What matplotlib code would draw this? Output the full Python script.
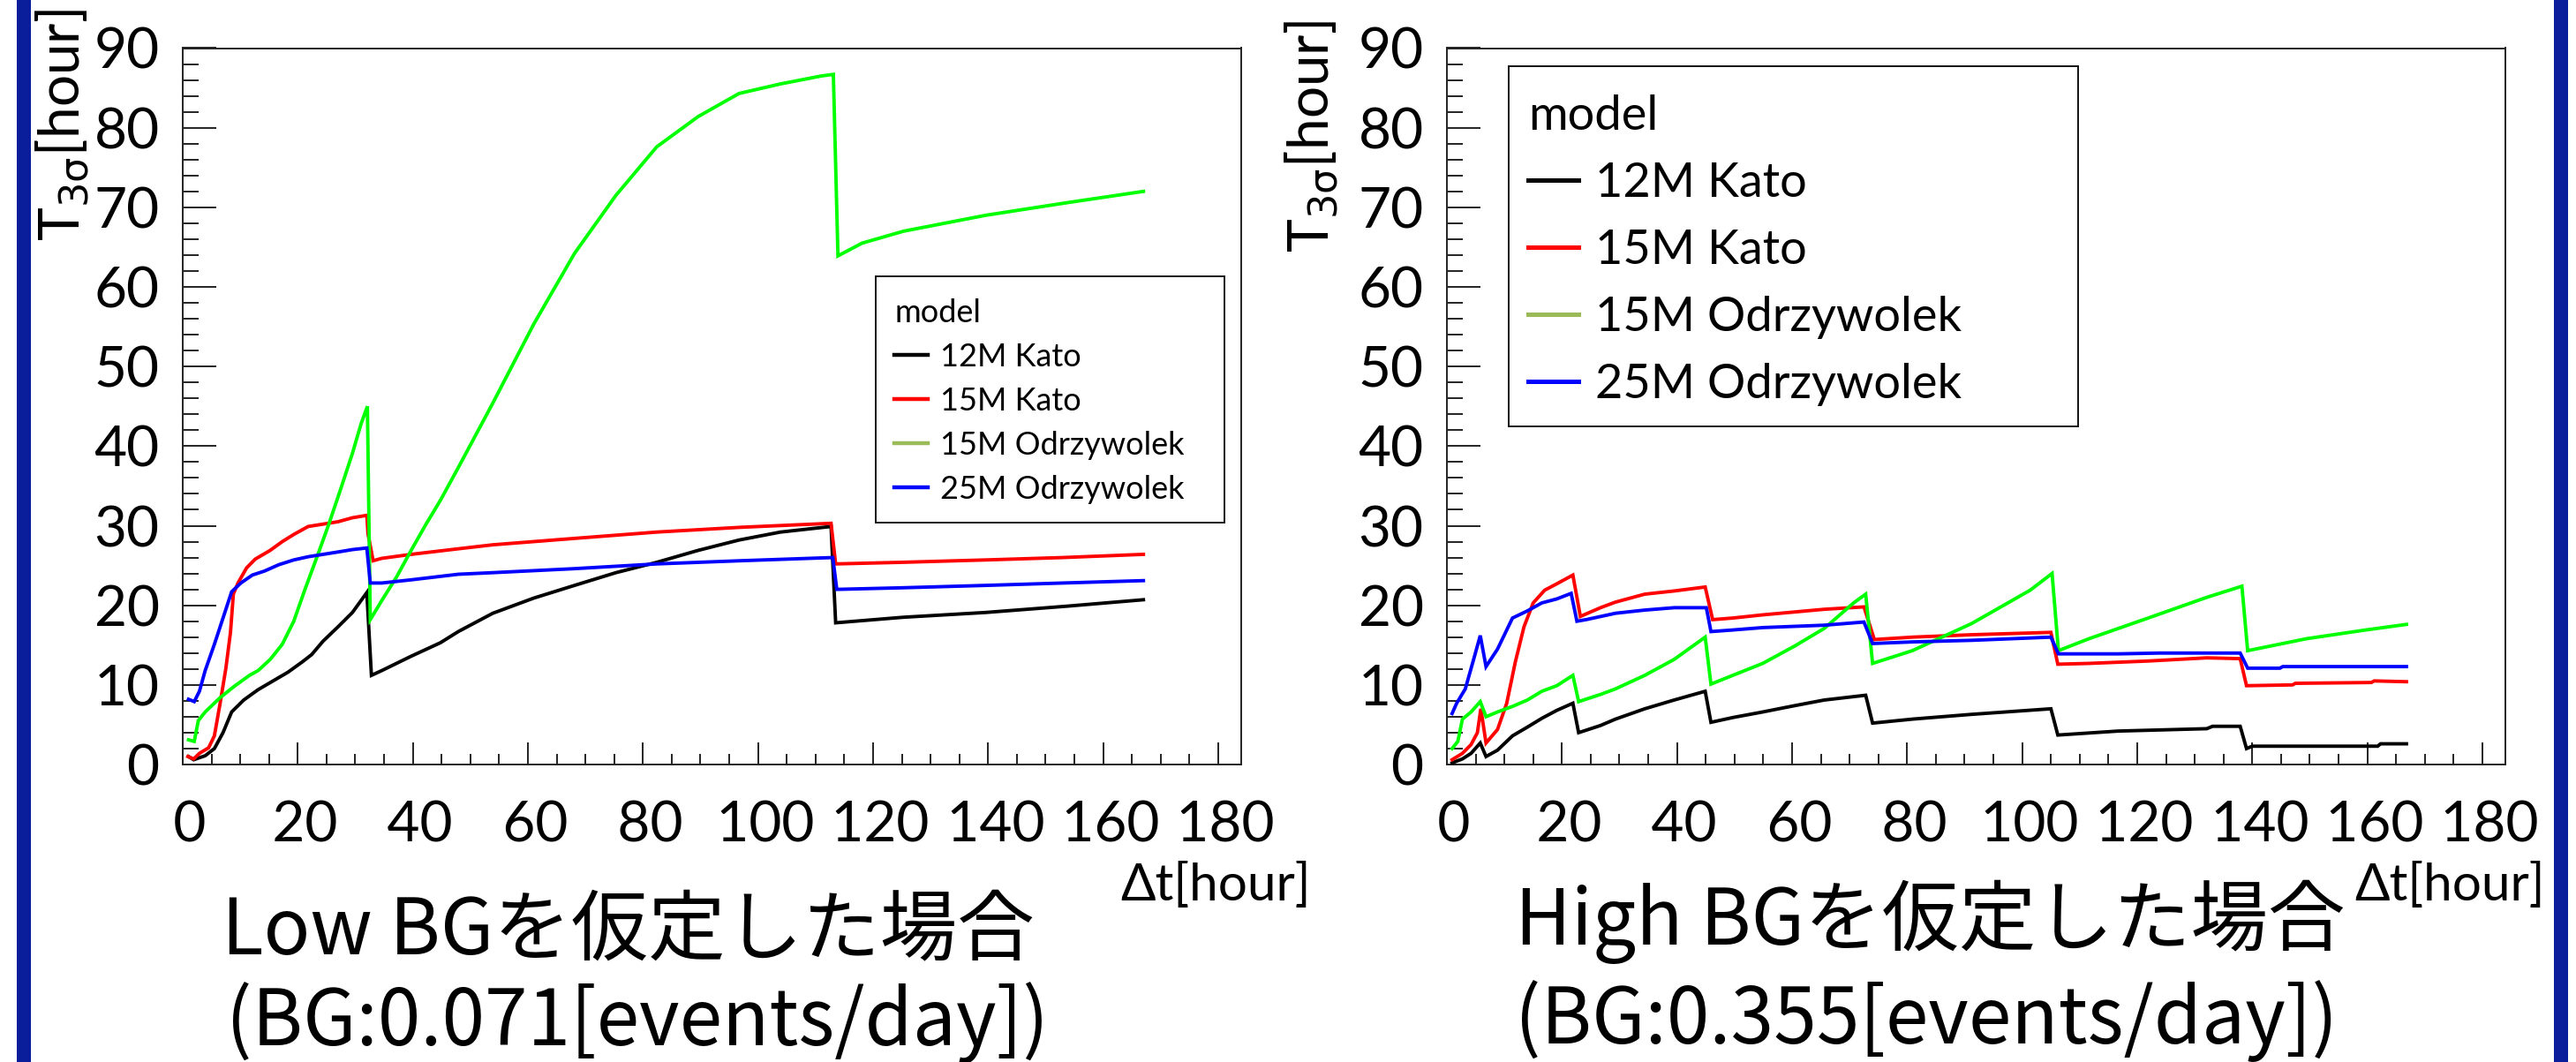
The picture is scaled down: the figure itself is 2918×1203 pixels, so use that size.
import matplotlib
matplotlib.use("Agg")
import matplotlib.pyplot as plt
from matplotlib.lines import Line2D
from matplotlib.patches import Rectangle
from matplotlib.ticker import MultipleLocator

# ---------------- data ----------------
series_labels = ["12M Kato", "15M Kato", "15M Odrzywolek", "25M Odrzywolek"]
line_colors = ["#000000", "#ff0000", "#00ff00", "#0000ff"]
legend_colors = ["#000000", "#ff0000", "#9bbb59", "#0000ff"]

x_ticks = [0, 20, 40, 60, 80, 100, 120, 140, 160, 180]
y_ticks = [0, 10, 20, 30, 40, 50, 60, 70, 80, 90]

# Low BG
low_t_12kato = [1.0, 1.9, 3.9, 5.5, 7.0, 8.5, 10.6, 13.1, 15.7, 18.3, 20.8, 22.4, 24.4, 27.0, 29.5, 32.0,
                32.8, 34.6, 39.7, 44.8, 47.9, 53.9, 61, 68.1, 75.3, 82.4, 89.6, 96.7, 103.9, 112.7,
                113.5, 125.3, 139.6, 153.9, 167]
low_T_12kato = [1.0, 0.6, 1.1, 2.0, 4.0, 6.6, 8.1, 9.4, 10.5, 11.6, 12.9, 13.8, 15.5, 17.3, 19.1, 21.6,
                11.2, 11.8, 13.6, 15.3, 16.7, 19.0, 20.9, 22.5, 24.1, 25.4, 26.9, 28.2, 29.2, 29.9,
                17.8, 18.5, 19.1, 19.9, 20.7]

low_t_15kato = [0.9, 1.9, 2.9, 4.5, 5.5, 6.5, 7.5, 8.3, 8.8, 9.6, 11.1, 12.6, 15.2, 17.3, 19.3, 21.8, 24.4,
                27.0, 29.5, 32.0, 32.2, 33.1, 34.6, 39.7, 47.9, 53.9, 68, 82.4, 97, 112.7,
                113.5, 125, 139.6, 153, 167]
low_T_15kato = [1.0, 0.7, 1.4, 2.1, 3.6, 7.7, 12.1, 16.6, 21.4, 22.8, 24.7, 25.8, 26.9, 28.0, 28.9, 29.9, 30.2,
                30.5, 31.0, 31.3, 29.0, 25.6, 25.9, 26.4, 27.1, 27.6, 28.4, 29.2, 29.8, 30.3,
                25.2, 25.4, 25.7, 26.0, 26.4]

low_t_15odr = [1.0, 2.0, 2.7, 3.9, 6.5, 9.1, 11.6, 13.1, 15.2, 17.3, 19.3, 21.3, 23.4, 25.4, 27.5, 29.5,
               31.0, 32.1, 32.6, 34.6, 37.2, 39.7, 42.3, 44.8, 47.9, 53.9, 61, 68.1, 75.3, 82.4, 89.6,
               96.7, 103.9, 111, 113.1, 113.9, 118.1, 125.3, 139.6, 153.9, 167]
low_T_15odr = [3.1, 2.9, 5.5, 6.6, 8.4, 9.9, 11.2, 11.8, 13.2, 15.1, 18.0, 22.1, 26.2, 30.2, 34.7, 39.1,
               42.8, 45.0, 18.2, 20.6, 23.6, 26.9, 30.2, 33.2, 37.3, 45.4, 55.3, 64.2, 71.5, 77.6, 81.4,
               84.3, 85.5, 86.5, 86.7, 63.9, 65.5, 67.0, 69.0, 70.6, 72.0]

low_t_25odr = [1.0, 2.0, 2.9, 3.9, 5.5, 7.0, 8.5, 10.1, 12.1, 14.2, 16.7, 19.3, 21.8, 24.4, 27.0, 29.5,
               32.0, 32.6, 34.6, 39.7, 47.9, 53.9, 68, 82.4, 97, 113, 113.7, 125, 139.6, 153, 167]
low_T_25odr = [8.2, 7.9, 9.2, 11.8, 15.1, 18.4, 21.7, 22.8, 23.8, 24.3, 25.1, 25.7, 26.1, 26.4, 26.7, 27.0,
               27.2, 22.8, 22.8, 23.2, 23.9, 24.1, 24.6, 25.2, 25.6, 26.0, 22.0, 22.2, 22.5, 22.8, 23.1]

# High BG
high_t_12kato = [0.9, 2.7, 4.2, 5.8, 6.8, 8.8, 11.4, 14.0, 16.5, 19.1, 21.9, 22.9, 26.7, 29.3, 34.4, 39.5,
                 44.9, 45.9, 49.7, 54.9, 60.5, 65.6, 72.8, 74.0, 80.9, 91.2, 105.0, 106.2, 116.7, 132.1,
                 133.1, 137.9, 139.0, 140.0, 161.8, 162.3, 166.8]
high_T_12kato = [0.2, 0.7, 1.4, 2.7, 1.0, 1.8, 3.6, 4.7, 5.8, 6.8, 7.7, 4.0, 4.9, 5.7, 7.0, 8.1,
                 9.2, 5.3, 5.9, 6.6, 7.4, 8.1, 8.7, 5.2, 5.7, 6.3, 7.0, 3.7, 4.2, 4.5,
                 4.8, 4.8, 2.0, 2.3, 2.3, 2.6, 2.6]

high_t_15kato = [0.9, 2.7, 4.2, 5.3, 5.9, 6.8, 8.8, 10.4, 11.9, 13.4, 15.0, 17.0, 19.1, 21.9, 23.2, 26.7,
                 29.3, 34.4, 39.5, 44.9, 46.2, 49.7, 54.9, 65.6, 72.5, 74.3, 80.9, 91.2, 105.0, 106.2,
                 111.6, 121.9, 132.1, 137.9, 139.0, 147.0, 147.5, 160.7, 161.2, 166.8]
high_T_15kato = [0.6, 1.4, 2.5, 4.0, 7.0, 2.7, 4.4, 7.7, 12.9, 17.3, 20.3, 21.9, 22.7, 23.8, 18.6, 19.7,
                 20.4, 21.4, 21.8, 22.3, 18.2, 18.4, 18.8, 19.5, 19.8, 15.7, 16.0, 16.3, 16.6, 12.6,
                 12.7, 13.0, 13.4, 13.3, 9.9, 10.0, 10.2, 10.3, 10.5, 10.4]

high_t_15odr = [0.9, 1.9, 2.7, 4.2, 5.8, 6.8, 8.8, 11.4, 14.0, 16.5, 19.1, 21.9, 22.9, 26.7, 29.3, 34.4,
                39.5, 44.9, 45.9, 49.7, 54.9, 60.5, 65.6, 70.7, 72.8, 74.0, 80.9, 91.2, 101.4, 105.2,
                106.3, 111.6, 121.9, 132.1, 138.2, 139.2, 149.4, 159.7, 166.8]
high_T_15odr = [2.0, 2.9, 5.7, 6.6, 7.9, 6.0, 6.6, 7.3, 8.1, 9.2, 9.9, 11.2, 7.9, 8.8, 9.5, 11.2,
                13.2, 16.0, 10.1, 11.2, 12.7, 14.9, 17.1, 20.3, 21.4, 12.7, 14.3, 17.7, 21.9, 24.0,
                14.3, 15.8, 18.4, 21.0, 22.4, 14.3, 15.8, 16.9, 17.6]

high_t_25odr = [0.9, 1.7, 3.2, 4.8, 5.8, 6.8, 8.8, 11.4, 14.0, 16.5, 19.1, 21.6, 22.6, 24.2, 29.3, 34.4,
                39.5, 45.1, 45.9, 49.7, 54.9, 65.6, 72.5, 74.0, 80.9, 91.2, 105.0, 106.3, 116.7, 123.9,
                137.9, 139.2, 144.8, 145.3, 166.8]
high_T_25odr = [6.4, 7.7, 9.5, 13.6, 16.2, 12.3, 14.5, 18.4, 19.3, 20.3, 20.8, 21.5, 18.0, 18.2, 19.0, 19.4,
                19.7, 19.7, 16.7, 16.9, 17.2, 17.5, 17.9, 15.2, 15.4, 15.6, 16.0, 13.9, 13.9, 14.0,
                14.0, 12.1, 12.1, 12.3, 12.3]

title_low = "Low BGを仮定した場合"
sub_low = "(BG:0.071[events/day])"
title_high = "High BGを仮定した場合"
sub_high = "(BG:0.355[events/day])"
y_label = "T$_{\\mathrm{3\\sigma}}$[hour]"
x_label = "Δt[hour]"
legend_title = "model"

# ---------------- figure ----------------
LATIN = ["Lato", "DejaVu Sans"]
CJK = ["Noto Sans CJK JP", "DejaVu Sans"]
plt.rcParams["font.family"] = LATIN
plt.rcParams["mathtext.fontset"] = "dejavusans"

W, H = 2918, 1203
fig = plt.figure(figsize=(W / 100, H / 100), dpi=100)
fig.patch.set_facecolor("white")


def fx(px):
    return px / W


def fy(py):
    return 1 - py / H


AX_W, AX_TOP, AX_BOT = 1199, 54.5, 866
ax_low = fig.add_axes([fx(207), fy(AX_BOT), AX_W / W, (AX_BOT - AX_TOP) / H])
ax_high = fig.add_axes([fx(1639), fy(AX_BOT), AX_W / W, (AX_BOT - AX_TOP) / H])

low_data = [(low_t_12kato, low_T_12kato), (low_t_15kato, low_T_15kato),
            (low_t_15odr, low_T_15odr), (low_t_25odr, low_T_25odr)]
high_data = [(high_t_12kato, high_T_12kato), (high_t_15kato, high_T_15kato),
             (high_t_15odr, high_T_15odr), (high_t_25odr, high_T_25odr)]

for ax, data in [(ax_low, low_data), (ax_high, high_data)]:
    for (t, v), c in zip(data, line_colors):
        ax.plot(t, v, color=c, lw=2.8, solid_joinstyle="miter", zorder=3)
    ax.set_xlim(0, 184)
    ax.set_ylim(0, 90)
    # ROOT draws the x labels slightly right of their ticks
    ax.set_xticks(x_ticks, labels=[" " + str(v) for v in x_ticks])
    ax.set_yticks(y_ticks)
    ax.xaxis.set_minor_locator(MultipleLocator(5))
    ax.yaxis.set_minor_locator(MultipleLocator(2))
    ax.tick_params(axis="x", which="major", direction="in", length=18, width=1.4,
                   labelsize=46, pad=29, top=False, color="#222222")
    ax.tick_params(axis="x", which="minor", direction="in", length=8.6, width=1.4,
                   top=False, color="#222222")
    ax.tick_params(axis="y", which="major", direction="in", length=27.4, width=1.4,
                   labelsize=46, pad=19, right=False, color="#222222")
    ax.tick_params(axis="y", which="minor", direction="in", length=13, width=1.4,
                   right=False, color="#222222")
    for sp in ax.spines.values():
        sp.set_linewidth(1.4)
        sp.set_color("#222222")


def add_legend(ax, box_px, anchor_px, ax_left, fs, hlen, hpad, lspace, lw):
    bx0, by0, bx1, by1 = box_px
    rect = Rectangle(((bx0 - ax_left) / AX_W, (AX_BOT - by1) / (AX_BOT - AX_TOP)),
                     (bx1 - bx0) / AX_W, (by1 - by0) / (AX_BOT - AX_TOP),
                     transform=ax.transAxes, facecolor="white", edgecolor="#111111",
                     lw=1.4, zorder=4)
    ax.add_patch(rect)
    handles = [Line2D([], [], color=c, lw=lw) for c in legend_colors]
    ax_x = (anchor_px[0] - ax_left) / AX_W
    ax_y = (AX_BOT - anchor_px[1]) / (AX_BOT - AX_TOP)
    leg = ax.legend(handles, series_labels, title=legend_title, loc="upper left",
                    bbox_to_anchor=(ax_x, ax_y), frameon=False, fontsize=fs,
                    title_fontsize=fs, handlelength=hlen, handletextpad=hpad,
                    labelspacing=lspace, borderpad=0, borderaxespad=0,
                    alignment="left")
    leg.set_zorder(5)
    return leg


add_legend(ax_low, (992, 313, 1387, 592), (1013, 338), 207, 26, 1.05, 0.39, 0.47, 3.2)
add_legend(ax_high, (1709, 75, 2354, 483), (1731, 107), 1639, 39, 1.05, 0.35, 0.5, 3.6)

# axis labels
fig.text(fx(71), fy(10), y_label, rotation=90, ha="center", va="top", fontsize=46)
fig.text(fx(1486), fy(23), y_label, rotation=90, ha="center", va="top", fontsize=46)
fig.text(fx(1485), fy(1020), x_label, ha="right", va="baseline", fontsize=42)
fig.text(fx(2883), fy(1020), x_label, ha="right", va="baseline", fontsize=42)

# slide titles
fig.text(fx(251), fy(1080), title_low, ha="left", va="baseline", fontsize=63, family=CJK)
fig.text(fx(256), fy(1184), sub_low, ha="left", va="baseline", fontsize=63, family=CJK)
fig.text(fx(1716), fy(1070), title_high, ha="left", va="baseline", fontsize=63, family=CJK)
fig.text(fx(1716), fy(1182), sub_high, ha="left", va="baseline", fontsize=63, family=CJK)

# slide side bars
bar_color = "#0a1e9c"
fig.patches.append(Rectangle((fx(19), 0), 16 / W, 1, transform=fig.transFigure,
                             facecolor=bar_color, edgecolor="none", zorder=10))
fig.patches.append(Rectangle((fx(2893), 0), 16 / W, 1, transform=fig.transFigure,
                             facecolor=bar_color, edgecolor="none", zorder=10))

fig.savefig("out.png", dpi=100, facecolor="white")
